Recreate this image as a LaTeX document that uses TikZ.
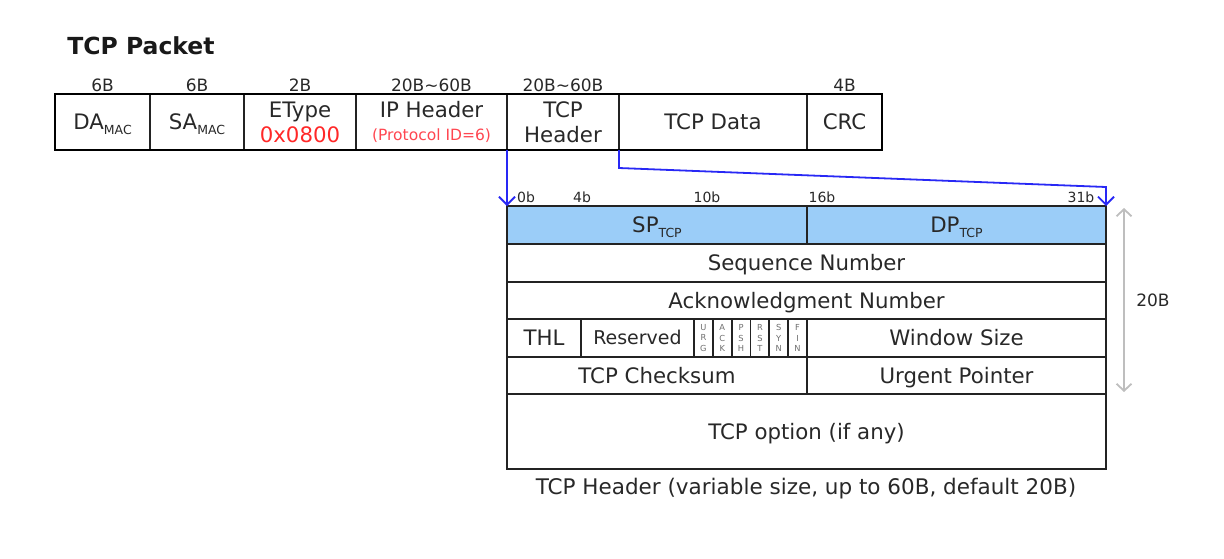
\documentclass[tikz,border=0pt]{standalone}
\usepackage{fontspec}
\setmainfont{DejaVu Sans}
\usetikzlibrary{arrows.meta}
\definecolor{txt}{RGB}{40,40,40}
\definecolor{linec}{RGB}{35,35,35}
\definecolor{hexred}{RGB}{255,40,40}
\definecolor{protred}{RGB}{255,70,80}
\definecolor{conblue}{RGB}{40,40,245}
\definecolor{spblue}{RGB}{155,205,248}
\definecolor{arrgray}{RGB}{190,190,190}
\definecolor{flaggray}{RGB}{110,110,110}
\newcommand\lowsub[1]{\raisebox{-4.5pt}{\fontsize{12.5}{14}\selectfont #1}}
\begin{document}
\begin{tikzpicture}[x=1pt,y=-1pt,
  cell/.style={draw=linec, line width=1.8pt, inner sep=0pt, outer sep=0pt, text=txt,
    font=\fontsize{21.3}{25}\selectfont, align=center},
  one/.style={text height=16pt, text depth=1pt},
  sizelbl/.style={inner sep=0pt, text=txt, font=\fontsize{17}{20}\selectfont},
  bitlbl/.style={inner sep=0pt, text=txt, font=\fontsize{14}{16}\selectfont},
  flagcell/.style={cell, minimum width=18.83pt, minimum height=38pt,
    font=\fontsize{8.3}{10.8}\selectfont, text=flaggray},
  conn/.style={draw=conblue, line width=1.8pt, -{Straight Barb[length=8pt,width=16pt,line width=1.8pt]}},
  dimarrow/.style={draw=arrgray, line width=2.2pt,
    {Straight Barb[length=7pt,width=15pt,line width=1.8pt]}-{Straight Barb[length=7pt,width=15pt,line width=1.8pt]}}
]
\useasboundingbox (0,0) rectangle (1224,558);

% title
\node[inner sep=0pt, text=black!90, font=\fontsize{23.5}{28}\selectfont\bfseries] (title) at (141,46) {TCP Packet};

% top packet row
\node[cell, one, minimum width=95pt, minimum height=56pt] (da) at (102.5,122) {DA\lowsub{MAC}};
\node[cell, one, minimum width=94pt, minimum height=56pt] (sa) at (197,122) {SA\lowsub{MAC}};
\node[cell, minimum width=112pt, minimum height=56pt] (et) at (300,122) {EType\\{\color{hexred}0x0800}};
\node[cell, minimum width=151pt, minimum height=56pt] (ip) at (431.5,122) {IP Header\\[-2pt]{\color{protred}\fontsize{15.5}{18}\selectfont (Protocol ID=6)}};
\node[cell, minimum width=112pt, minimum height=56pt] (tcph) at (563,122) {TCP\\Header};
\node[cell, one, minimum width=188pt, minimum height=56pt] (data) at (713,122) {TCP Data};
\node[cell, one, minimum width=75pt, minimum height=56pt] (crc) at (844.5,122) {CRC};
\draw[draw=black, line width=2.8pt] (da.north west) rectangle (crc.south east);

% size labels
\node[sizelbl] (l1) at (102.5,85) {6B};
\node[sizelbl] (l2) at (197,85) {6B};
\node[sizelbl] (l3) at (300,85) {2B};
\node[sizelbl] (l4) at (431.5,85) {20B\char`~60B};
\node[sizelbl] (l5) at (563,85) {20B\char`~60B};
\node[sizelbl] (l6) at (844.5,85) {4B};

% TCP header table
\node[cell, one, fill=spblue, minimum width=300pt, minimum height=38pt] (sp) at (657,225) {SP\lowsub{TCP}};
\node[cell, one, fill=spblue, minimum width=299pt, minimum height=38pt] (dp) at (956.5,225) {DP\lowsub{TCP}};
\node[cell, one, minimum width=599pt, minimum height=38pt] (seq) at (806.5,263) {Sequence Number};
\node[cell, one, minimum width=599pt, minimum height=37pt] (ack) at (806.5,300.5) {Acknowledgment Number};
\node[cell, one, minimum width=74pt, minimum height=38pt] (thl) at (544,338) {THL};
\node[cell, minimum width=113pt, minimum height=38pt, font=\fontsize{19}{22}\selectfont, text height=14pt, text depth=1pt] (res) at (637.5,338) {Reserved};
\node[flagcell] (urg) at (703.42,338) {U\\R\\G};
\node[flagcell] (ackf) at (722.25,338) {A\\C\\K};
\node[flagcell] (psh) at (741.08,338) {P\\S\\H};
\node[flagcell] (rst) at (759.92,338) {R\\S\\T};
\node[flagcell] (syn) at (778.75,338) {S\\Y\\N};
\node[flagcell] (fin) at (797.58,338) {F\\I\\N};
\node[cell, one, minimum width=299pt, minimum height=38pt] (win) at (956.5,338) {Window Size};
\node[cell, one, minimum width=300pt, minimum height=37pt] (chk) at (657,375.5) {TCP Checksum};
\node[cell, one, minimum width=299pt, minimum height=37pt] (urp) at (956.5,375.5) {Urgent Pointer};
\node[cell, one, minimum width=599pt, minimum height=75pt] (opt) at (806.5,431.5) {TCP option (if any)};
\draw[draw=linec, line width=2.4pt] (sp.north west) rectangle (opt.south east);

% bit labels
\node[bitlbl] (b0) at (526,197) {0b};
\node[bitlbl] (b4) at (582,197) {4b};
\node[bitlbl] (b10) at (707,197) {10b};
\node[bitlbl] (b16) at (822,197) {16b};
\node[bitlbl] (b31) at (1081,197) {31b};

% caption
\node[inner sep=0pt, text=txt, font=\fontsize{21.5}{25}\selectfont] (cap) at (806,489) {TCP Header (variable size, up to 60B, default 20B)};

% blue connectors
\draw[conn] (tcph.south west) -- (sp.north west);
\draw[conn] (tcph.south east) -- ++(0,18) coordinate (k1) -- ([yshift=19pt]dp.north east) coordinate (k2) -- (dp.north east);

% 20B dimension
\draw[dimarrow] ([xshift=18pt,yshift=-2pt]dp.north east) -- ([xshift=18pt,yshift=2pt]urp.south east);
\node[sizelbl] (d20) at (1153,300) {20B};
\end{tikzpicture}
\end{document}
